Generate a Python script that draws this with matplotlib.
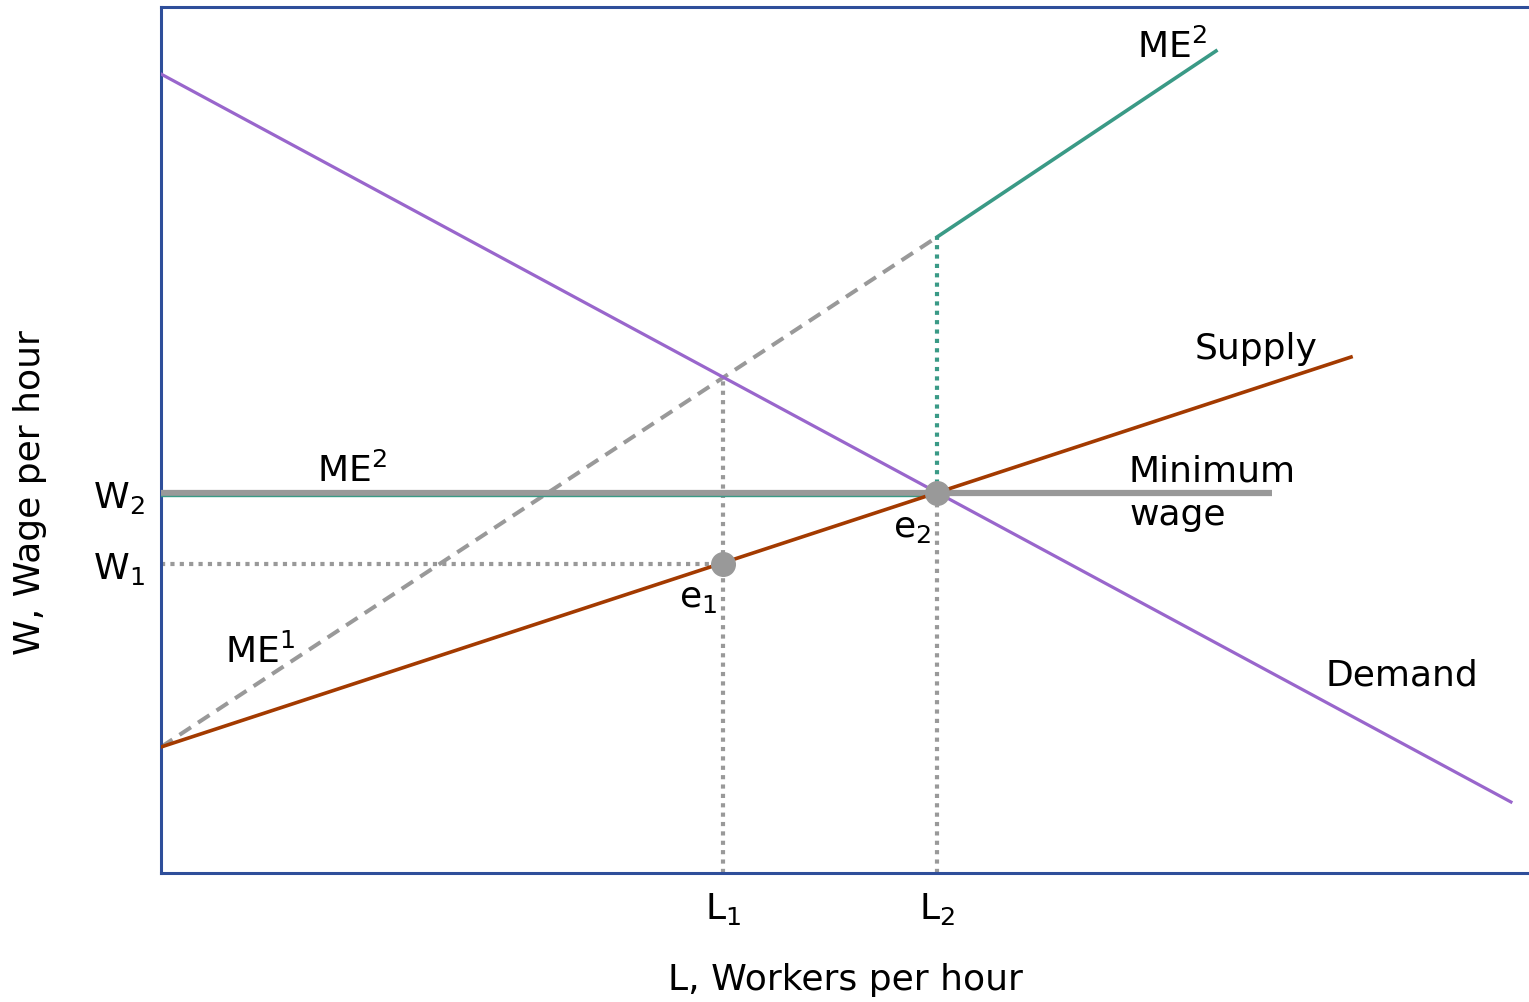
import matplotlib
matplotlib.use("Agg")
import matplotlib.pyplot as plt

# Data (axis units: 0..10 on both axes)
demand_x = [0.0, 9.868]
demand_y = [9.226, 0.82]
supply_x = [0.0, 8.699]
supply_y = [1.455, 5.958]
me1_x = [0.0, 5.673]
me1_y = [1.455, 7.344]
me2_x = [5.673, 7.712]
me2_y = [7.344, 9.492]
minwage_x = [0.0, 8.121]
W1, W2 = 3.568, 4.388
L1, L2 = 4.108, 5.673
demand_at_L1 = 5.727
xtick_labels = ["L$_1$", "L$_2$"]
ytick_labels = ["W$_1$", "W$_2$"]

PURPLE = "#9966CC"
BROWN = "#A33A00"
TEAL = "#3A9A86"
GRAY = "#999999"
SPINE = "#2E4E9A"

plt.rcParams['font.family'] = ['DejaVu Sans']
plt.rcParams['mathtext.fontset'] = 'dejavusans'
fig = plt.figure(figsize=(15.29, 10.03), dpi=100)
ax = fig.add_axes([161/1529, 1-874/1003, 1-161/1529, (874-8)/1003])
ax.set_xlim(0, 10)
ax.set_ylim(0, 10)

dot = (0, (1.0, 1.25))
# dotted guides
ax.plot([0, L1], [W1, W1], color=GRAY, lw=3.0, ls=dot, zorder=2)
ax.plot([L1, L1], [0, demand_at_L1], color=GRAY, lw=3.0, ls=dot, zorder=2)
ax.plot([L2, L2], [0, W2], color=GRAY, lw=3.0, ls=dot, zorder=2)
ax.plot([L2, L2], [W2, me2_y[0]], color=TEAL, lw=3.0, ls=dot, zorder=2)

# ME1 dashed
ax.plot(me1_x, me1_y, color=GRAY, lw=2.9, ls=(0, (3.4, 2.1)), zorder=2)
# ME2 horizontal part (thin teal) and minimum wage
ax.plot(minwage_x, [W2, W2], color=GRAY, lw=4.5, solid_capstyle='butt', zorder=3)
ax.plot([0, L2], [W2 - 0.04, W2 - 0.04], color=TEAL, lw=1.0, zorder=3)
# ME2 upper
ax.plot(me2_x, me2_y, color=TEAL, lw=2.6, zorder=4)
# Demand and supply
ax.plot(demand_x, demand_y, color=PURPLE, lw=2.3, zorder=4)
ax.plot(supply_x, supply_y, color=BROWN, lw=2.6, zorder=4)

# equilibrium points
ax.plot([L1, L2], [W1, W2], 'o', color=GRAY, ms=17, zorder=5)

fs = 26
kw = dict(fontsize=fs, ha='left', va='baseline')
ax.text(7.135, 9.42, "ME$^2$", **kw)
ax.text(1.14, 4.53, "ME$^2$", **kw)
ax.text(0.468, 2.436, "ME$^1$", **kw)
ax.text(7.558, 5.947, "Supply", **kw)
ax.text(7.076, 4.53, "Minimum", **kw)
ax.text(7.076, 4.03, "wage", **kw)
ax.text(8.509, 2.182, "Demand", **kw)
ax.text(3.786, 3.083, "e$_1$", **kw)
ax.text(5.351, 3.891, "e$_2$", **kw)

ax.set_xticks([L1, L2])
ax.set_xticklabels(xtick_labels, fontsize=fs)
ax.set_yticks([W1, W2])
ax.set_yticklabels(ytick_labels, fontsize=fs)
ax.tick_params(length=0, pad=12)
ax.set_xlabel("L, Workers per hour", fontsize=fs, labelpad=26)
ax.set_ylabel("W, Wage per hour", fontsize=fs)
ax.yaxis.set_label_coords(-0.083, 0.441)

for s in ['left', 'bottom', 'top']:
    ax.spines[s].set_color(SPINE)
    ax.spines[s].set_linewidth(2.2)
ax.spines['right'].set_visible(False)

fig.savefig("out.png", dpi=100)
